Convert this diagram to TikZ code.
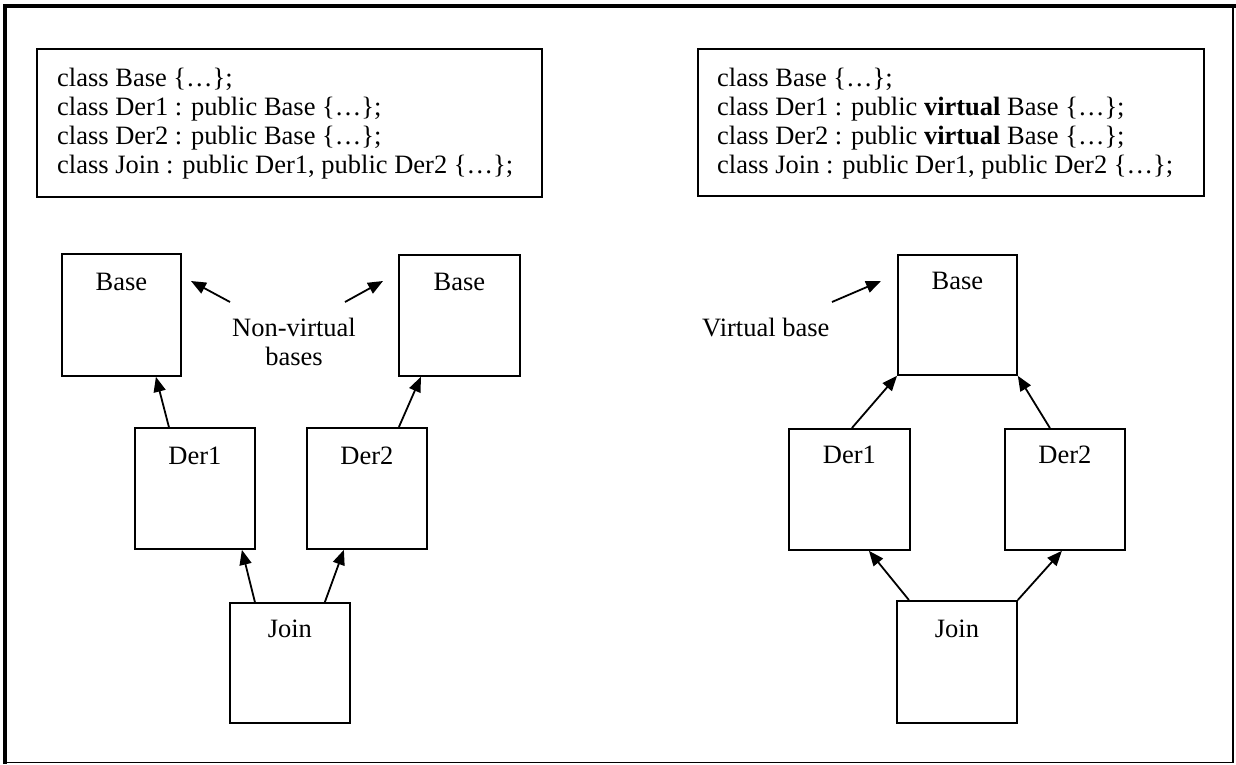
\documentclass[tikz,border=0pt]{standalone}
\usepackage{fontspec}
\setmainfont{Liberation Serif}
\usetikzlibrary{arrows.meta,calc}
\begin{document}
\begin{tikzpicture}[x=1pt,y=-1pt,
  font=\fontsize{26.5}{29}\selectfont,
  box/.style={draw,line width=1.8pt,minimum width=120pt,minimum height=121pt,inner sep=0pt,anchor=north west},
  codebox/.style={draw,line width=1.8pt,inner sep=0pt,anchor=north west},
  lbl/.style={anchor=base,inner sep=0pt},
  codeline/.style={anchor=base west,inner sep=0pt},
  arr/.style={line width=1.8pt,-{Triangle[length=15pt,width=12pt]}}]
\useasboundingbox (0,0) rectangle (1236,764);
% outer frame
\draw[line width=4pt] (5,764) -- (5,5.5) -- (1236,5.5);
\draw[line width=1.5pt] (1233,5) -- (1233,762.5) -- (3,762.5);

% code boxes
\node[codebox,minimum width=505pt,minimum height=148pt] (codeL) at (36,48) {};
\node[codebox,minimum width=506pt,minimum height=147pt] (codeR) at (697,48) {};
\node[codeline] (cl1) at (57,86) {class Base \{…\};};
\node[codeline] (cl2) at (57,115) {class Der1 : public Base \{…\};};
\node[codeline] (cl3) at (57,144) {class Der2 : public Base \{…\};};
\node[codeline] (cl4) at (57,173) {class Join : public Der1, public Der2 \{…\};};
\node[codeline] (cr1) at (717,86) {class Base \{…\};};
\node[codeline] (cr2) at (717,115) {class Der1 : public \textbf{virtual} Base \{…\};};
\node[codeline] (cr3) at (717,144) {class Der2 : public \textbf{virtual} Base \{…\};};
\node[codeline] (cr4) at (717,173) {class Join : public Der1, public Der2 \{…\};};

% left diagram
\node[box,minimum width=119pt,minimum height=122pt] (baseL) at (61,253) {};
\node[box,minimum width=121pt] (baseR) at (398,254) {};
\node[box] (der1L) at (134,427) {};
\node[box] (der2L) at (306,427) {};
\node[box,minimum height=120pt] (joinL) at (229,602) {};
\node[lbl] at ([yshift=-37pt]baseL.north) {Base};
\node[lbl] at ([yshift=-36pt]baseR.north) {Base};
\node[lbl] at ([yshift=-37pt]der1L.north) {Der1};
\node[lbl] at ([yshift=-37pt]der2L.north) {Der2};
\node[lbl] at ([yshift=-35pt]joinL.north) {Join};
\node[lbl] (nv1) at (294,336) {Non-virtual};
\node[lbl] (nv2) at (294,365) {bases};
\coordinate (nvl) at (230,302);
\coordinate (nvr) at (345,302);
\draw[arr] (nvl) -- (191,281);
\draw[arr] (nvr) -- (383,281);
\draw[arr] ([xshift=-26pt]der1L.north) -- ([xshift=34.5pt]baseL.south);
\draw[arr] ([xshift=32pt]der2L.north) -- ([xshift=-38.5pt]baseR.south);
\draw[arr] ([xshift=-35pt]joinL.north) -- ([xshift=47pt]der1L.south);
\draw[arr] ([xshift=35pt]joinL.north) -- ([xshift=-23pt]der2L.south);

% right diagram
\node[box,minimum width=119pt,minimum height=120pt] (baseV) at (897,254) {};
\node[box,minimum width=121pt] (der1R) at (788,428) {};
\node[box] (der2R) at (1004,428) {};
\node[box,minimum height=122pt] (joinR) at (896,600) {};
\node[lbl] at ([yshift=-35pt]baseV.north) {Base};
\node[lbl] at ([yshift=-35pt]der1R.north) {Der1};
\node[lbl] at ([yshift=-35pt]der2R.north) {Der2};
\node[lbl] at ([yshift=-37pt]joinR.north) {Join};
\node[anchor=base west,inner sep=0pt] (vb) at (702,336) {Virtual base};
\coordinate (vbs) at (832,302);
\draw[arr] (vbs) -- (881,281);
\draw[arr] ([xshift=2.5pt]der1R.north) -- (baseV.south west);
\draw[arr] ([xshift=-15pt]der2R.north) -- (baseV.south east);
\draw[arr] ([xshift=-48pt]joinR.north) -- ([xshift=19.5pt]der1R.south);
\draw[arr] (joinR.north east) -- ([xshift=-3pt]der2R.south);
\end{tikzpicture}
\end{document}
